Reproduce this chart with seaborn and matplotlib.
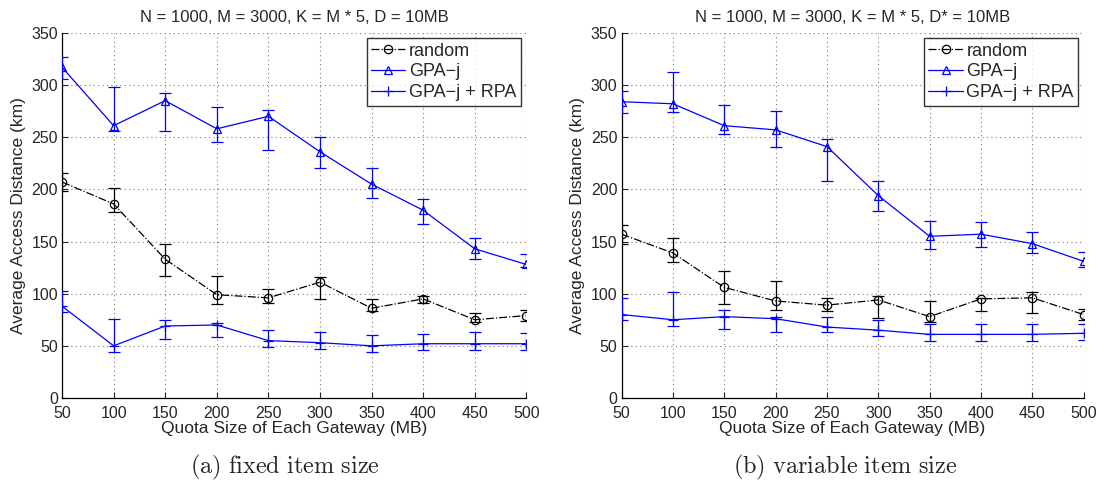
import numpy as np
import pandas as pd
import matplotlib
matplotlib.use("Agg")
import matplotlib.pyplot as plt
import seaborn as sns

# quota sizes (MB)
quota = [50, 100, 150, 200, 250, 300, 350, 400, 450, 500]

# (a) fixed item size : mean, upper end, lower end of the error bars
fixed_random = [207, 186, 133, 99, 96, 111, 86, 95, 75, 79]
fixed_random_hi = [216, 201, 148, 117, 104, 116, 95, 98, 81, 84]
fixed_random_lo = [198, 178, 117, 90, 91, 95, 83, 91, 73, 74]

fixed_gpa = [317, 261, 285, 258, 270, 236, 205, 180, 143, 128]
fixed_gpa_hi = [327, 298, 292, 279, 276, 250, 220, 191, 153, 138]
fixed_gpa_lo = [306, 256, 256, 245, 238, 220, 192, 167, 133, 126]

fixed_rpa = [88, 50, 69, 70, 55, 53, 50, 52, 52, 52]
fixed_rpa_hi = [103, 76, 75, 72, 65, 63, 60, 61, 63, 62]
fixed_rpa_lo = [82, 44, 57, 58, 49, 47, 44, 46, 46, 46]

# (b) variable item size
var_random = [157, 139, 106, 93, 89, 94, 78, 95, 96, 80]
var_random_hi = [166, 153, 122, 112, 96, 98, 93, 96, 102, 85]
var_random_lo = [148, 130, 90, 84, 83, 77, 73, 83, 81, 75]

var_gpa = [284, 282, 261, 257, 241, 194, 155, 157, 148, 131]
var_gpa_hi = [294, 312, 281, 275, 248, 208, 170, 169, 159, 140]
var_gpa_lo = [273, 274, 253, 241, 208, 179, 143, 145, 139, 126]

var_rpa = [80, 75, 78, 76, 68, 65, 61, 61, 61, 62]
var_rpa_hi = [96, 102, 84, 78, 78, 75, 71, 71, 71, 71]
var_rpa_lo = [75, 69, 66, 63, 63, 59, 55, 55, 55, 56]

titles = ["N = 1000, M = 3000, K = M * 5, D = 10MB",
          "N = 1000, M = 3000, K = M * 5, D* = 10MB"]
captions = [r"$\mathrm{(a)\ fixed\ item\ size}$",
            r"$\mathrm{(b)\ variable\ item\ size}$"]

sns.set_style("white")
plt.rcParams['font.family'] = ['Liberation Sans', 'DejaVu Sans']
plt.rcParams['mathtext.fontset'] = 'cm'

fig = plt.figure(figsize=(11.08, 4.83), dpi=100)
axes = [fig.add_axes([0.056, 0.176, 0.419, 0.756]),
        fig.add_axes([0.561, 0.176, 0.417, 0.756])]

panels = [
    [(fixed_random, fixed_random_hi, fixed_random_lo),
     (fixed_gpa, fixed_gpa_hi, fixed_gpa_lo),
     (fixed_rpa, fixed_rpa_hi, fixed_rpa_lo)],
    [(var_random, var_random_hi, var_random_lo),
     (var_gpa, var_gpa_hi, var_gpa_lo),
     (var_rpa, var_rpa_hi, var_rpa_lo)],
]

styles = [
    dict(label="random", color="black", marker="o", linestyle="-.", ms=6),
    dict(label="GPA\u2212j", color="#0000ff", marker="^", linestyle="-", ms=6),
    dict(label="GPA\u2212j + RPA", color="#0000ff", marker="+", linestyle="-", ms=7),
]

for i, ax in enumerate(axes):
    for (mean, hi, lo), st in zip(panels[i], styles):
        df = pd.DataFrame({"quota": quota, "dist": mean})
        sns.lineplot(data=df, x="quota", y="dist", ax=ax, color=st["color"],
                     marker=st["marker"], linestyle=st["linestyle"], lw=0.9,
                     markersize=st["ms"], markerfacecolor="none",
                     markeredgecolor=st["color"], markeredgewidth=0.9,
                     label=st["label"], zorder=3)
        err = [np.array(mean) - np.array(lo), np.array(hi) - np.array(mean)]
        ax.errorbar(quota, mean, yerr=err, fmt="none", ecolor=st["color"],
                    elinewidth=0.9, capsize=4, capthick=0.9, zorder=3)

    ax.set_xlim(50, 500)
    ax.set_ylim(0, 350)
    ax.set_xticks(quota)
    ax.set_yticks(range(0, 351, 50))
    ax.grid(True, linestyle=(0, (1, 3)), color="#777777", linewidth=0.8)
    ax.tick_params(direction="in", length=4, labelsize=11.5, width=0.8,
                   left=True, bottom=True)
    ax.tick_params(axis="x", pad=6)
    ax.tick_params(axis="y", pad=3)
    for s in ["top", "right"]:
        ax.spines[s].set_visible(False)
    for s in ["left", "bottom"]:
        ax.spines[s].set_color("black")
        ax.spines[s].set_linewidth(0.9)
    ax.set_xlabel("Quota Size of Each Gateway (MB)", fontsize=12.5, labelpad=0)
    ax.set_ylabel("Average Access Distance (km)", fontsize=12.5, labelpad=4)
    ax.set_title(titles[i], fontsize=12, pad=8)
    leg = ax.legend(loc="upper right", fontsize=13, frameon=True, fancybox=False,
                    borderaxespad=0.3, handlelength=1.9, handletextpad=0.2,
                    borderpad=0.25, labelspacing=0.2)
    leg.get_frame().set_edgecolor("black")
    leg.get_frame().set_linewidth(1.0)

fig.text(0.257, 0.02, captions[0], fontsize=17.5, ha="center")
fig.text(0.763, 0.02, captions[1], fontsize=17.5, ha="center")

fig.savefig("out.png", dpi=100)
